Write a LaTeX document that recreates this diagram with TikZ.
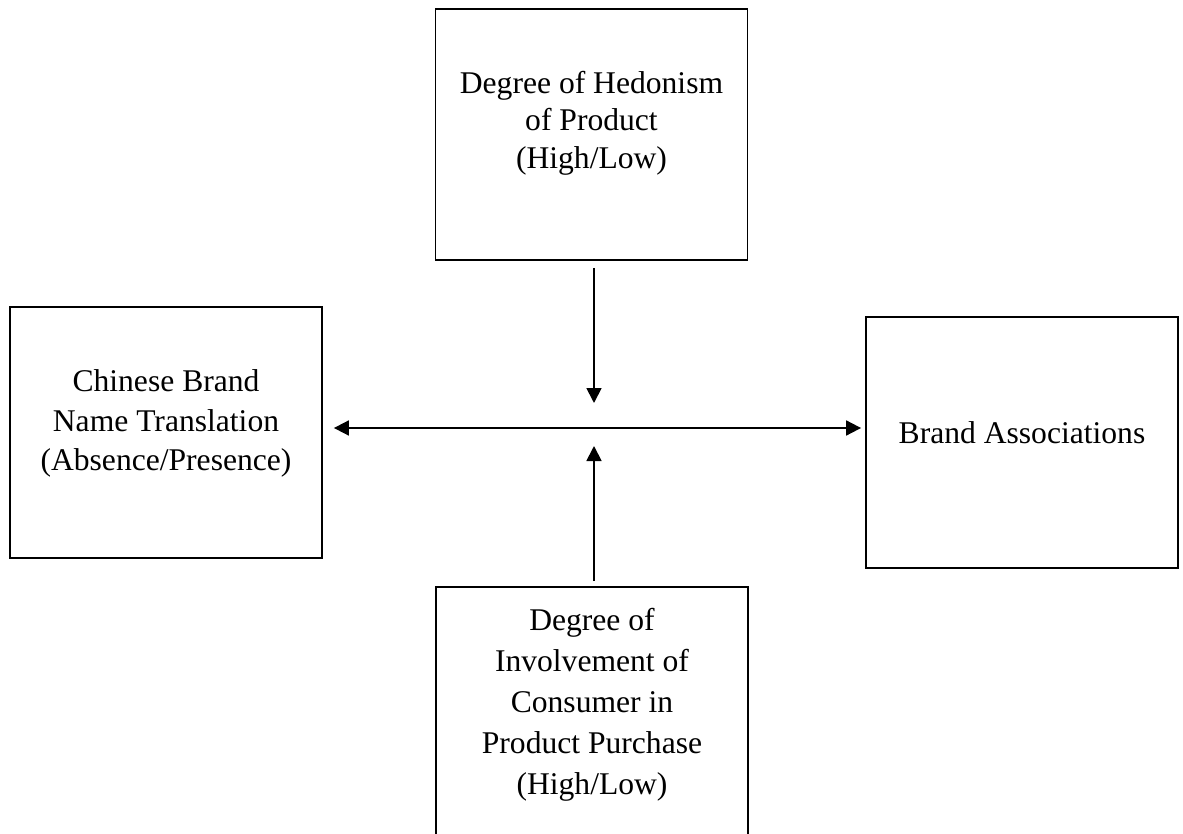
\documentclass[tikz,border=0pt]{standalone}
\usepackage{fontspec}
\setmainfont{Liberation Serif}
\usetikzlibrary{arrows.meta}
\begin{document}
\begin{tikzpicture}[x=1pt,y=-1pt,
  box/.style={draw, line width=1.8pt, minimum width=312pt, minimum height=251pt, inner sep=0pt},
  lbl/.style={align=center, inner sep=0pt},
  tip/.style={Triangle[length=15pt,width=15pt]},
  conn/.style={line width=1.8pt, -{Triangle[length=15pt,width=15pt]}}]
\useasboundingbox (0,0) rectangle (1183,834);
\clip (0,0) rectangle (1183,834);
% boxes
\node[box] (top) at (591.5,134.5) {};
\node[box] (left) at (166,432.5) {};
\node[box] (right) at (1022,442.5) {};
\node[box] (bottom) at (592,712.5) {};
\coordinate (hub) at (594,428);
% texts
\node[lbl, font=\fontsize{31.6}{37.6}\selectfont] (toptext) at (591.5,123.2)
  {Degree of Hedonism\\of Product\\(High/Low)};
\node[lbl, font=\fontsize{31.6}{39.2}\selectfont] (lefttext) at (166,423.5)
  {Chinese Brand\\Name Translation\\(Absence/Presence)};
\node[lbl, font=\fontsize{31.6}{39.2}\selectfont] (righttext) at (1022,432.2)
  {Brand Associations};
\node[lbl, font=\fontsize{31.6}{41}\selectfont] (bottomtext) at (592,704.7)
  {Degree of\\Involvement of\\Consumer in\\Product Purchase\\(High/Low)};
% connectors
\draw[line width=1.8pt, {Triangle[length=15pt,width=15pt]}-{Triangle[length=15pt,width=15pt]},
  shorten <=11pt, shorten >=4pt] (left.east |- hub) -- (right.west |- hub);
\draw[conn, shorten <=7pt, shorten >=25pt] (top.south -| hub) -- (hub);
\draw[conn, shorten <=5pt, shorten >=18pt] (bottom.north -| hub) -- (hub);
\end{tikzpicture}
\end{document}
